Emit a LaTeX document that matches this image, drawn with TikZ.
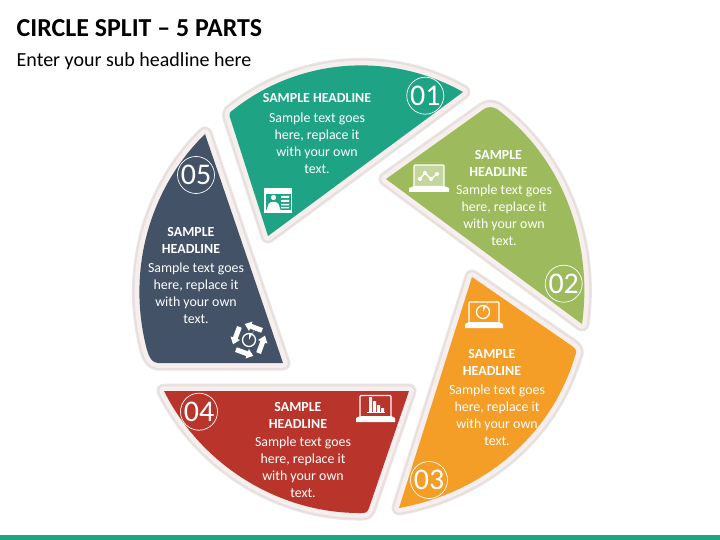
\documentclass[tikz,border=0pt]{standalone}
\usepackage{fontspec}
\setmainfont{Carlito}
\definecolor{cteal}{HTML}{1FA385}
\definecolor{cgreen}{HTML}{9DBB5D}
\definecolor{corange}{HTML}{F49D27}
\definecolor{cred}{HTML}{B9352C}
\definecolor{cnavy}{HTML}{435266}
\definecolor{haloa}{HTML}{EBE6E5}
\definecolor{halob}{HTML}{E6DFDE}
\definecolor{haloc}{HTML}{F7EFEE}
\newcommand{\segshape}[2]{%
  \draw[haloa,line width=15pt,line join=round] #2;
  \draw[halob,line width=13pt,line join=round] #2;
  \draw[haloc,line width=9.5pt,line join=round] #2;
  \fill[#1] #2;
}
\tikzset{
  head/.style={text=white,font=\fontsize{13.9}{17}\selectfont\bfseries,align=center,inner sep=0pt},
  body/.style={text=white,font=\fontsize{13.9}{17}\selectfont,align=center,inner sep=0pt},
  numcircle/.style={circle,draw=white,line width=.7pt,minimum size=37pt,inner sep=0pt,text=white,font=\fontsize{30}{30}\selectfont},
  iconline/.style={draw=white,line width=1.3pt},
}
\newcommand{\laptop}[6]{% x1 x2 top bot basex1 basex2
  \draw[iconline,rounded corners=1pt] (#1,#4) -- (#1,#3) -- (#2,#3) -- (#2,#4);
  \fill[white] (#5,#4+2) -- (#1,#4) -- (#2,#4) -- (#6,#4+2) -- (#6,#4+6) -- (#5,#4+6) -- cycle;
}
\begin{document}
\begin{tikzpicture}[x=1pt,y=-1pt]
\useasboundingbox (0,0) rectangle (720,540);
\fill[white] (0,0) rectangle (720,540);
\fill[cteal] (0,534.5) rectangle (720,540);
\node[anchor=base west,inner sep=0pt,font=\fontsize{25.9}{30}\selectfont\bfseries] (title) at (16.5,36.5) {CIRCLE SPLIT – 5 PARTS};
\node[anchor=base west,inner sep=0pt,font=\fontsize{20}{24}\selectfont] (subtitle) at (16.5,66.5) {Enter your sub headline here};

\segshape{cnavy}{(205,134) -- (283,363) -- (158,363) .. controls (152,363) and (149,357) .. (147,350) .. controls (126.5,273) and (148,190) .. (205,134) -- cycle}
\segshape{cteal}{(268,236) -- (229.5,116) .. controls (229,113) and (230,112) .. (233,110) .. controls (297,59) and (388,50) .. (463,92) -- cycle}
\segshape{cgreen}{(386,179) -- (484,109) .. controls (488,106.5) and (492,106.5) .. (497,109) .. controls (563,158) and (593.4,243) .. (582,324) -- cycle}
\segshape{corange}{(472,277) -- (572,346) .. controls (577,349) and (577,353) .. (575,356) .. controls (551,437) and (482,493) .. (399,508) -- cycle}
\segshape{cred}{(164,391) -- (409,391) -- (369,508) .. controls (367.5,512) and (366,513) .. (362,513) .. controls (279,514) and (201,465) .. (164,391) -- cycle}

% text
\node[head] (h1) at (317,97.7) {SAMPLE HEADLINE};
\node[body] (b1) at (317,143.2) {Sample text goes\\here, replace it\\with your own\\text.};
\node[head] (h2) at (498.5,163.2) {SAMPLE\\HEADLINE};
\node[body] (b2) at (504,215.7) {Sample text goes\\here, replace it\\with your own\\text.};
\node[head] (h3) at (492,362.2) {SAMPLE\\HEADLINE};
\node[body] (b3) at (497,415.2) {Sample text goes\\here, replace it\\with your own\\text.};
\node[head] (h4) at (298,415.2) {SAMPLE\\HEADLINE};
\node[body] (b4) at (303,467.2) {Sample text goes\\here, replace it\\with your own\\text.};
\node[head] (h5) at (191,240.2) {SAMPLE\\HEADLINE};
\node[body] (b5) at (196,293.2) {Sample text goes\\here, replace it\\with your own\\text.};

% numbers
\node[numcircle] (n1) at (425.3,95.7) {01};
\node[numcircle] (n2) at (563.7,283.7) {02};
\node[numcircle] (n3) at (429,480) {03};
\node[numcircle] (n4) at (199,411.7) {04};
\node[numcircle] (n5) at (196,175) {05};

% icon 01: profile card
\fill[white] (264,188) rectangle (292,213);
\fill[cteal] (265.5,194) rectangle (290.5,210);
\fill[white] (286,189.5) rectangle (288,191.5) (289,189.5) rectangle (291,191.5);
\fill[white] (273.5,197.5) circle (2.6);
\fill[white] (266.5,210) -- (268.5,204) .. controls (270,201) and (277,201) .. (278.5,204) -- (280.5,210) -- cycle;
\fill[white] (281,196) rectangle (289,198) (281,200) rectangle (289,202) (281,204) rectangle (289,205.5) (281,207) rectangle (289,208.5);

% icon 02: laptop with line chart
\fill[white,opacity=.4] (414,165) rectangle (444,186);
\laptop{414}{444}{165}{186}{409}{449}
\draw[white,line width=1.2pt] (420,179) -- (425,173) -- (431,179) -- (437,174);
\fill[white] (420,179) circle (2) (425,173) circle (2) (431,179) circle (2) (437,174) circle (2);

% icon 03: laptop with pie
\laptop{469}{499}{302}{322}{465}{503}
\draw[white,line width=1.3pt] (483,312) circle (6.5);
\fill[white] (483,312) -- (483,306.5) arc[start angle=90,end angle=0,radius=5.5] -- cycle;

% icon 04: laptop with bars
\laptop{360}{391}{395.5}{416}{356}{395}
\fill[white] (369,397) rectangle (372,412) (373,401) rectangle (376,412) (377,405) rectangle (380,412) (381,408) rectangle (384,412);
\fill[white] (367,412) rectangle (385,413);

% icon 05: cycle
\draw[white,line width=1.3pt] (249,340) circle (6.5);
\fill[white] (249,340) -- (249,334.5) arc[start angle=90,end angle=0,radius=5.5] -- cycle;
\foreach \a in {-20,70,160,250}{
  \begin{scope}[shift={(249,340)},rotate=\a]
    \fill[white] (9,-16) -- (-3,-16) -- (-3,-18.5) -- (-9.5,-13.5) -- (-3,-8.5) -- (-3,-11) -- (9,-11) -- cycle;
  \end{scope}
}
\end{tikzpicture}
\end{document}
